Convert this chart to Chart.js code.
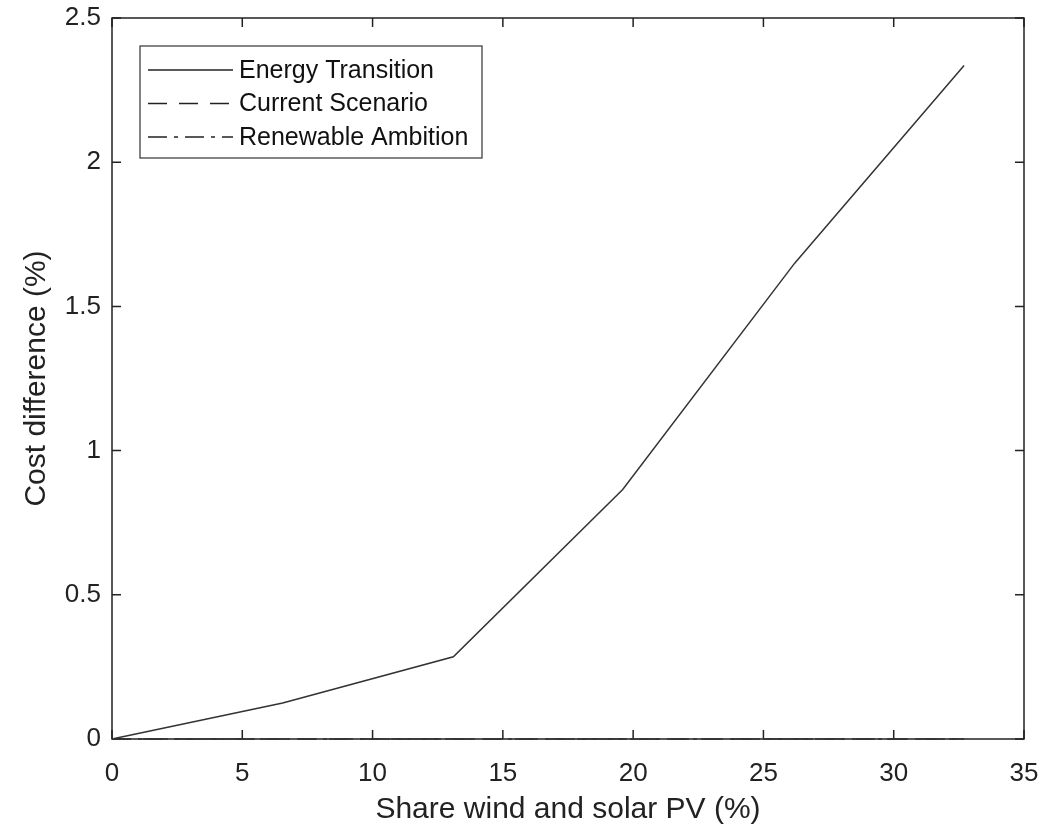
<!DOCTYPE html>
<html>
<head>
<meta charset="utf-8">
<script src="https://cdn.jsdelivr.net/npm/chart.js@4"></script>
<style>
  html, body { margin: 0; padding: 0; background: #fff; }
  #wrap { width: 1043px; height: 827px; }
</style>
</head>
<body>
<div id="wrap"><canvas id="grafica" width="1043" height="827"></canvas></div>
<script>
// datos
const shareWindSolar = [0, 6.55, 13.1, 19.6, 26.2, 32.7];
const energyTransition = [0, 0.125, 0.285, 0.865, 1.65, 2.335];
const currentScenario = [0, 0, 0, 0, 0, 0];
const renewableAmbition = [0, 0, 0, 0, 0, 0];
const xTicks = [0, 5, 10, 15, 20, 25, 30, 35];
const yTicks = [0, 0.5, 1, 1.5, 2, 2.5];

const fuente = "'Liberation Sans', Arial, Helvetica, sans-serif";

function puntos(ys) {
    return shareWindSolar.map((x, i) => ({ x: x, y: ys[i] }));
}

// marco y ticks hacia dentro, estilo matlab
const marcoPlugin = {
    id: 'marco',
    beforeDatasetsDraw(chart) {
        const { ctx, chartArea: a, scales } = chart;
        const largo = 9;
        ctx.save();
        ctx.strokeStyle = '#222';
        ctx.lineWidth = 1.5;
        ctx.strokeRect(a.left, a.top, a.right - a.left, a.bottom - a.top);
        ctx.beginPath();
        xTicks.forEach(v => {
            const px = scales.x.getPixelForValue(v);
            ctx.moveTo(px, a.bottom); ctx.lineTo(px, a.bottom - largo);
            ctx.moveTo(px, a.top); ctx.lineTo(px, a.top + largo);
        });
        yTicks.forEach(v => {
            const py = scales.y.getPixelForValue(v);
            ctx.moveTo(a.left, py); ctx.lineTo(a.left + largo, py);
            ctx.moveTo(a.right, py); ctx.lineTo(a.right - largo, py);
        });
        ctx.stroke();
        ctx.restore();
    },
    afterDraw(chart) {
        // leyenda dentro del area
        const { ctx, chartArea: a } = chart;
        const x0 = a.left + 28, y0 = a.top + 28, w = 342, h = 112;
        ctx.save();
        ctx.fillStyle = '#fff';
        ctx.fillRect(x0, y0, w, h);
        ctx.strokeStyle = '#333';
        ctx.lineWidth = 1.2;
        ctx.strokeRect(x0, y0, w, h);
        ctx.font = '25px ' + fuente;
        ctx.textBaseline = 'middle';
        chart.data.datasets.forEach((ds, i) => {
            const yy = y0 + 24 + i * 33.5;
            ctx.beginPath();
            ctx.setLineDash(ds.borderDash || []);
            ctx.strokeStyle = '#222';
            ctx.lineWidth = 1.5;
            ctx.moveTo(x0 + 8, yy);
            ctx.lineTo(x0 + 93, yy);
            ctx.stroke();
            ctx.setLineDash([]);
            ctx.fillStyle = '#111';
            ctx.fillText(ds.label, x0 + 99, yy + 1);
        });
        ctx.restore();
    }
};

const datos = {
    datasets: [{
        label: 'Energy Transition',
        data: puntos(energyTransition),
        borderColor: '#333',
        borderWidth: 1.5,
        borderDash: [],
    }, {
        label: 'Current Scenario',
        data: puntos(currentScenario),
        borderColor: '#333',
        borderWidth: 1.5,
        borderDash: [19, 12],
    }, {
        label: 'Renewable Ambition',
        data: puntos(renewableAmbition),
        borderColor: '#333',
        borderWidth: 1.5,
        borderDash: [19, 7, 4, 7],
    }]
};

const configGrafica = {
    type: 'line',
    data: datos,
    options: {
        responsive: false,
        animation: false,
        layout: { padding: { left: 15, right: 19, top: 18, bottom: 0 } },
        elements: { point: { radius: 0 }, line: { tension: 0 } },
        datasets: { line: { clip: 3 } },
        plugins: { legend: { display: false }, tooltip: { enabled: false } },
        scales: {
            x: {
                type: 'linear',
                min: 0, max: 35,
                grid: { display: false, drawTicks: false },
                border: { display: false },
                afterBuildTicks: s => { s.ticks = xTicks.map(v => ({ value: v })); },
                afterFit: s => { s.height = 88; s.paddingLeft = 0; s.paddingRight = 0; },
                ticks: { color: '#222', padding: 19, font: { family: fuente, size: 26 } },
                title: {
                    display: true,
                    text: 'Share wind and solar PV (%)',
                    color: '#222',
                    padding: { top: 0, bottom: -1 },
                    font: { family: fuente, size: 30 }
                }
            },
            y: {
                type: 'linear',
                min: 0, max: 2.5,
                grid: { display: false, drawTicks: false },
                border: { display: false },
                afterBuildTicks: s => { s.ticks = yTicks.map(v => ({ value: v })); },
                afterFit: s => { s.width = 112 - 15; s.paddingTop = 0; s.paddingBottom = 0; },
                ticks: {
                    color: '#222', padding: 11, font: { family: fuente, size: 26 },
                    callback: v => String(v)
                },
                title: {
                    display: true,
                    text: 'Cost difference (%)',
                    color: '#222',
                    padding: { top: 4, bottom: 0 },
                    font: { family: fuente, size: 30 }
                }
            }
        }
    },
    plugins: [marcoPlugin]
};

var grafica = new Chart(document.getElementById('grafica'), configGrafica);
</script>
</body>
</html>
